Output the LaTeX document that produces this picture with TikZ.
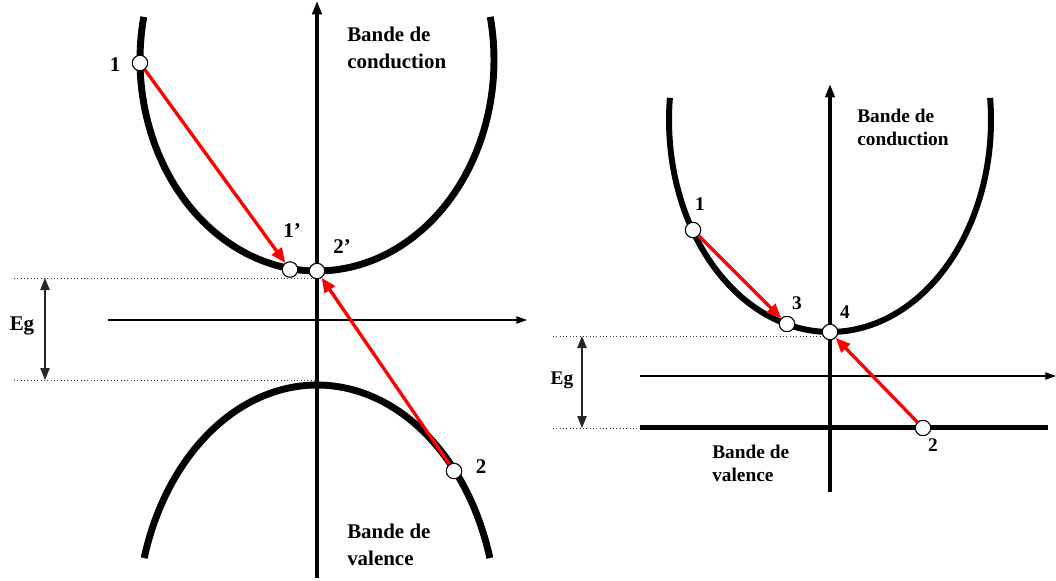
\documentclass[tikz,border=0pt]{standalone}
\usepackage{fontspec}
\setmainfont{Liberation Serif}
\usetikzlibrary{arrows.meta}
\begin{document}
\begin{tikzpicture}[x=0.75pt,y=-0.75pt,
 bandL/.style={line width=5.2pt},
 bandR/.style={line width=4.5pt},
 vaxis/.style={line width=2.4pt,-{Triangle[length=10pt,width=7pt]}},
 haxis/.style={line width=0.9pt,-{Triangle[length=8pt,width=5.5pt]}},
 pt/.style={circle,draw,fill=white,line width=0.7pt,minimum size=11.5pt,inner sep=0pt},
 trans/.style={red,line width=2.5pt,-{Triangle[length=11pt,width=9pt]}},
 eg/.style={line width=0.8pt,black!85,{Triangle[length=9pt,width=7pt]}-{Triangle[length=9pt,width=7pt]}},
 dots/.style={dotted,line width=0.5pt,black!80},
 lbl/.style={font=\bfseries\fontsize{15.7}{20}\selectfont,inner sep=0pt,align=left},
 lbls/.style={font=\bfseries\fontsize{14.5}{17.3}\selectfont,inner sep=0pt,align=left},
]
\useasboundingbox (0,0) rectangle (1056,581);

% ---------------- left diagram ----------------
\coordinate (Lvb) at (317,578);
\coordinate (Lvt) at (317,1);
\coordinate (Lhl) at (108,320);
\coordinate (Lhr) at (527,320);
\coordinate (Ld1a) at (14,278);
\coordinate (Ld1b) at (317,278);
\coordinate (Ld2a) at (14,380);
\coordinate (Ld2b) at (317,380);
\coordinate (Legt) at (45,278);
\coordinate (Legb) at (45,380);

\draw[dots] (Ld1a) -- (Ld1b);
\draw[dots] (Ld2a) -- (Ld2b);
\draw[eg] (Legt) -- (Legb);
\draw[haxis] (Lhl) -- (Lhr);
\draw[vaxis] (Lvb) -- (Lvt);

\draw[bandL] plot[domain=-11.8:191.8,samples=120] ({317+177*cos(\x)},{60+211*sin(\x)});
\draw[bandL] plot[domain=16.2:163.8,samples=120] ({317+180*cos(\x)},{625-240*sin(\x)});

\node[pt] (L1) at (140,63) {};
\node[pt] (L1p) at (290,269.5) {};
\node[pt] (L2p) at (317,271) {};
\node[pt] (L2) at (454,471) {};
\draw[trans] (L1) -- (L1p);
\draw[trans] (L2) -- (L2p);
\node[pt] at (L1) {};
\node[pt] at (L1p) {};
\node[pt] at (L2p) {};
\node[pt] at (L2) {};

\node[lbl] (tL1) at (115,65) {1};
\node[lbl] (tL1p) at (292,231) {1’};
\node[lbl] (tL2p) at (342,247) {2’};
\node[lbl] (tL2) at (481,467) {2};
\node[lbl] (tLeg) at (22,326) {Eg};
\node[lbl,anchor=west] (tLc) at (347,48) {Bande de\\conduction};
\node[lbl,anchor=west] (tLv) at (347,545) {Bande de\\valence};

% ---------------- right diagram ----------------
\coordinate (Rvb) at (830,492);
\coordinate (Rvt) at (830,84);
\coordinate (Rhl) at (640,376);
\coordinate (Rhr) at (1056,376);
\coordinate (Rd1a) at (553,336);
\coordinate (Rd1b) at (830,336);
\coordinate (Rd2a) at (553,428);
\coordinate (Rd2b) at (640,428);
\coordinate (Regt) at (582,336);
\coordinate (Regb) at (582,428);
\coordinate (Rval1) at (640,427.5);
\coordinate (Rval2) at (1048,427.5);

\draw[dots] (Rd1a) -- (Rd1b);
\draw[dots] (Rd2a) -- (Rd2b);
\draw[eg] (Regt) -- (Regb);
\draw[haxis] (Rhl) -- (Rhr);
\draw[vaxis] (Rvb) -- (Rvt);

\draw[bandR] plot[domain=-6:186,samples=120] ({830+161*cos(\x)},{120+212*sin(\x)});
\draw[line width=3.4pt] (Rval1) -- (Rval2);

\node[pt] (R1) at (693,230) {};
\node[pt] (R3) at (787,324) {};
\node[pt] (R4) at (830,332) {};
\node[pt] (R2) at (923,428) {};
\draw[trans] (R1) -- (R3);
\draw[trans] (R2) -- (R4);
\node[pt] at (R1) {};
\node[pt] at (R3) {};
\node[pt] at (R4) {};
\node[pt] at (R2) {};

\node[lbls] (tR1) at (700,204) {1};
\node[lbls] (tR3) at (797,303) {3};
\node[lbls] (tR4) at (845,312) {4};
\node[lbls] (tR2) at (933,445) {2};
\node[lbls] (tReg) at (562,380) {Eg};
\node[lbls,anchor=west] (tRc) at (857,127) {Bande de\\conduction};
\node[lbls,anchor=west] (tRv) at (712,463) {Bande de\\valence};
\end{tikzpicture}
\end{document}
